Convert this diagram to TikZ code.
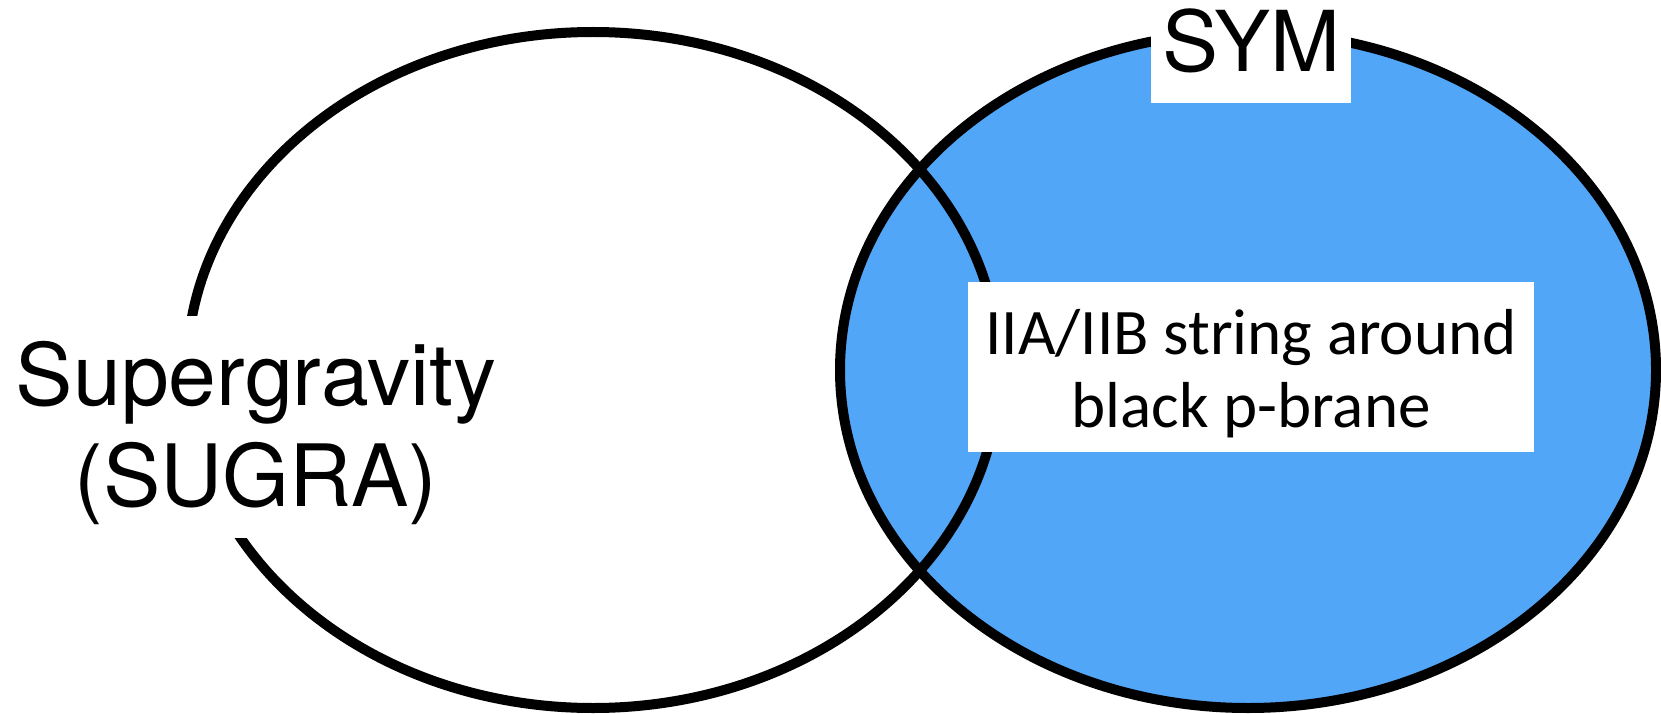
\documentclass[tikz,border=0pt]{standalone}
\usepackage{fontspec}
\setmainfont{TeX Gyre Heros}
\newfontfamily\labelfont{Carlito}
\definecolor{symblue}{RGB}{82,166,248}
\begin{document}
\begin{tikzpicture}[x=1pt,y=-1pt,
  ring/.style={line width=10pt, draw=black},
  knockout/.style={fill=white, inner sep=0pt, outer sep=0pt, align=center}]
\useasboundingbox (0,0) rectangle (1661,714);
\fill[white] (0,0) rectangle (1661,714);
% centres of the two theory regions
\coordinate (sugraC) at (593,370);
\coordinate (symC) at (1248,370);
% SYM region filled, then both outlines
\fill[symblue] (symC) ellipse [x radius=408pt, y radius=338pt];
\draw[ring] (sugraC) ellipse [x radius=406pt, y radius=338pt];
\draw[ring] (symC) ellipse [x radius=408pt, y radius=338pt];
% labels on white patches
\node[knockout, minimum width=200pt, minimum height=126pt,
      text height=64pt, text depth=0pt,
      font=\fontsize{84}{96}\selectfont] (sym) at (1251,40) {SYM};
\node[knockout, minimum height=222pt,
      font=\fontsize{86}{101}\selectfont] (sugra) at (256,427)
  {\rule{0pt}{77pt}Supergravity\\(SUGRA)};
\node[knockout, minimum width=566pt, minimum height=170pt,
      font=\labelfont\fontsize{65}{73}\selectfont] (string) at (1251,367)
  {\rule{0pt}{58pt}IIA/IIB string around\\black p-brane};
\end{tikzpicture}
\end{document}
